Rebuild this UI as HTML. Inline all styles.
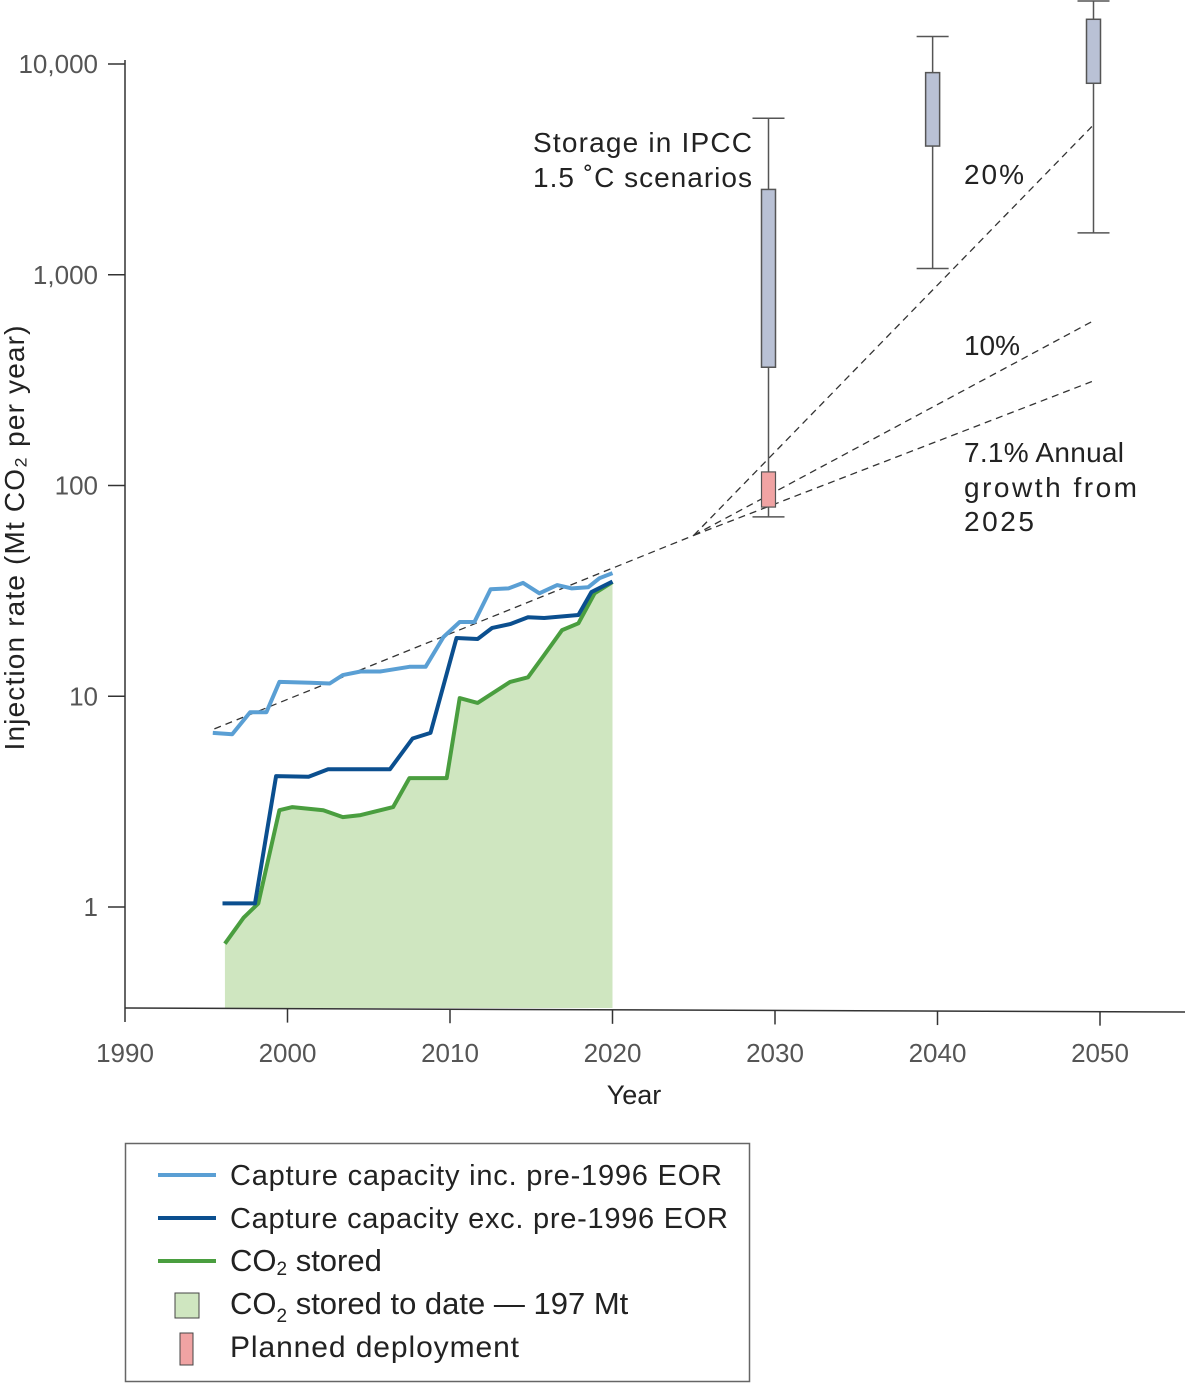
<!DOCTYPE html>
<html><head><meta charset="utf-8"><style>
html,body{margin:0;padding:0;background:#fff;}
svg{display:block;font-family:"Liberation Sans",sans-serif;}
</style></head><body>
<svg id="chart" width="1185" height="1383" viewBox="0 0 1185 1383" xmlns="http://www.w3.org/2000/svg">
<g id="area"></g>
<g id="trend"></g>
<g id="lines"></g>
<g id="boxes"></g>
<g id="axes"></g>
<g font-size="28" fill="#222">
<text x="533" y="152" textLength="219">Storage in IPCC</text>
<text x="533" y="187" textLength="219">1.5 ˚C scenarios</text>
<text x="964" y="184" textLength="60">20%</text>
<text x="964" y="355" textLength="56">10%</text>
<text x="964" y="462" textLength="160">7.1% Annual</text>
<text x="964" y="497" textLength="173">growth from</text>
<text x="964" y="531" textLength="70">2025</text>
</g>
<text transform="translate(24,538) rotate(-90)" text-anchor="middle" font-size="28" fill="#222" textLength="425">Injection rate (Mt CO₂ per year)</text>
<text x="634" y="1104" text-anchor="middle" font-size="27" fill="#222">Year</text>
<g>
<rect x="125.5" y="1143.5" width="624" height="238" fill="#fff" stroke="#666" stroke-width="1.5"/>
<line x1="158" y1="1175" x2="216" y2="1175" stroke="#5a9fd4" stroke-width="4"/>
<text x="230" y="1185" font-size="29" fill="#222" textLength="492">Capture capacity inc. pre-1996 EOR</text>
<line x1="158" y1="1218" x2="216" y2="1218" stroke="#0b4f8f" stroke-width="4"/>
<text x="230" y="1228" font-size="29" fill="#222" textLength="498">Capture capacity exc. pre-1996 EOR</text>
<line x1="158" y1="1261" x2="216" y2="1261" stroke="#4a9e3f" stroke-width="4"/>
<text x="230" y="1271" font-size="31" fill="#222">CO<tspan font-size="19" dy="4">2</tspan><tspan dy="-4"> stored</tspan></text>
<rect x="175" y="1293" width="24" height="25" fill="#cfe6c0" stroke="#444" stroke-width="1"/>
<text x="230" y="1314" font-size="31" fill="#222">CO<tspan font-size="19" dy="8">2</tspan><tspan dy="-8"> stored to date — 197 Mt</tspan></text>
<rect x="180" y="1333" width="13" height="32" fill="#f0a3a3" stroke="#444" stroke-width="1"/>
<text x="230" y="1357" font-size="30" fill="#222" textLength="289">Planned deployment</text>
</g>
</svg>
<script>
const incYears=[1995.4,1996.6,1997.7,1998.7,1999.5,2001.4,2002.6,2003.4,2004.5,2005.7,2007.5,2008.5,2009.6,2010.6,2011.5,2012.5,2013.6,2014.5,2015.5,2016.6,2017.5,2018.5,2019.2,2020];
const incValues=[6.7,6.6,8.4,8.4,11.7,11.6,11.5,12.6,13.1,13.1,13.8,13.8,19.1,22.5,22.5,32.2,32.5,34.5,30.8,33.7,32.5,32.9,36.3,38.4];
const excYears=[1996.0,1998.0,1999.3,2001.3,2002.5,2006.3,2007.7,2008.8,2010.4,2011.7,2012.6,2013.7,2014.8,2015.8,2017.9,2018.7,2020];
const excValues=[1.04,1.04,4.18,4.15,4.5,4.5,6.3,6.7,18.9,18.7,21.1,22.0,23.7,23.5,24.3,31.2,35];
const storedYears=[1996.15,1997.3,1998.2,1999.5,2000.3,2002.2,2003.4,2004.5,2006.5,2007.5,2009.8,2010.6,2011.7,2013.7,2014.8,2015.8,2016.9,2017.9,2018.9,2020];
const storedValues=[0.67,0.89,1.04,2.88,2.98,2.88,2.67,2.73,2.98,4.09,4.09,9.8,9.3,11.7,12.3,15.7,20.6,22.2,30.8,34.8];
const trendStart=[1995.5,7.0];
const trendEnd=[2025,58];
const growthRates=[0.071,0.10,0.20];
const growthEndYear=2049.5;
const boxYears=[2029.6,2039.7,2049.6];
const boxWhiskerLow=[71,1070,1580];
const boxQ1=[364,4080,8100];
const boxQ3=[2540,9100,16300];
const boxWhiskerHigh=[5530,13500,19900];
const plannedYear=2029.6;
const plannedLow=79, plannedHigh=116;
const xTicks=[1990,2000,2010,2020,2030,2040,2050];
const yTicks=[1,10,100,1000,10000];
const yTickLabels=["1","10","100","1,000","10,000"];

const NS="http://www.w3.org/2000/svg";
const X=yr=>125+(yr-1990)*16.25;
const Y=v=>907-Math.log10(v)*210.75;
const BASE=1008;
function mk(tag,attrs,parent){const e=document.createElementNS(NS,tag);for(const k in attrs)e.setAttribute(k,attrs[k]);document.getElementById(parent).appendChild(e);return e;}
function pts(xs,vs){return xs.map((x,i)=>X(x).toFixed(1)+","+Y(vs[i]).toFixed(1)).join(" ");}

let d="M"+X(storedYears[0])+","+BASE+" L"+pts(storedYears,storedValues).replace(/ /g," L")+" L"+X(storedYears[storedYears.length-1])+","+BASE+" Z";
let a=mk("path",{d:d,fill:"#cfe6c0"},"area");



let t=mk("line",{x1:X(trendStart[0]),y1:Y(trendStart[1]),x2:X(trendEnd[0]),y2:Y(trendEnd[1]),stroke:"#333","stroke-width":1.3,"stroke-dasharray":"7,5"},"trend");


growthRates.forEach(r=>{
  const v=trendEnd[1]*Math.pow(1+r,growthEndYear-trendEnd[0]);
  const l=mk("line",{x1:X(trendEnd[0]),y1:Y(trendEnd[1]),x2:X(growthEndYear),y2:Y(v),stroke:"#333","stroke-width":1.3,"stroke-dasharray":"7,5"},"trend");
  
  
});

[[storedYears,storedValues,"#4a9e3f","stored-line"],[excYears,excValues,"#0b4f8f","capacity-exc-line"],[incYears,incValues,"#5a9fd4","capacity-inc-line"]].forEach(s=>{
  const p=mk("polyline",{points:pts(s[0],s[1]),fill:"none",stroke:s[2],"stroke-width":4,"stroke-linejoin":"round"},"lines");
  
  
});

boxYears.forEach((yr,i)=>{
  const cx=X(yr);
  const w=mk("line",{x1:cx,y1:Y(boxWhiskerHigh[i]),x2:cx,y2:Y(boxWhiskerLow[i]),stroke:"#555","stroke-width":1.5},"boxes");
  
  
  [boxWhiskerHigh[i],boxWhiskerLow[i]].forEach(v=>{
    const c=mk("line",{x1:cx-16,y1:Y(v),x2:cx+16,y2:Y(v),stroke:"#555","stroke-width":1.5},"boxes");
    
    
  });
  const b=mk("rect",{x:cx-7,y:Y(boxQ3[i]),width:14,height:Y(boxQ1[i])-Y(boxQ3[i]),fill:"#b9c1d5",stroke:"#555","stroke-width":1.5},"boxes");
  
  
});
const pb=mk("rect",{x:X(plannedYear)-7,y:Y(plannedHigh),width:14,height:Y(plannedLow)-Y(plannedHigh),fill:"#f0a3a3",stroke:"#555","stroke-width":1.2},"boxes");



let ya=mk("line",{x1:125,y1:60,x2:125,y2:BASE,stroke:"#333","stroke-width":1.5},"axes");


let xa=mk("line",{x1:125,y1:BASE,x2:1185,y2:BASE+4,stroke:"#333","stroke-width":1.5},"axes");


yTicks.forEach((v,i)=>{
  const tk=mk("line",{x1:108,y1:Y(v),x2:125,y2:Y(v),stroke:"#333","stroke-width":1.5},"axes");
  
  
  const tl=mk("text",{x:98,y:Y(v)+9,"text-anchor":"end","font-size":26,fill:"#555"},"axes");
  tl.textContent=yTickLabels[i];
  
  
});
xTicks.forEach(yr=>{
  const off=(X(yr)-125)/1060*4;
  const tk=mk("line",{x1:X(yr),y1:BASE+off,x2:X(yr),y2:BASE+off+14,stroke:"#333","stroke-width":1.5},"axes");
  
  
  const tl=mk("text",{x:X(yr),y:1062,"text-anchor":"middle","font-size":26,fill:"#555"},"axes");
  tl.textContent=yr;
  
  
});
</script>
</body></html>
